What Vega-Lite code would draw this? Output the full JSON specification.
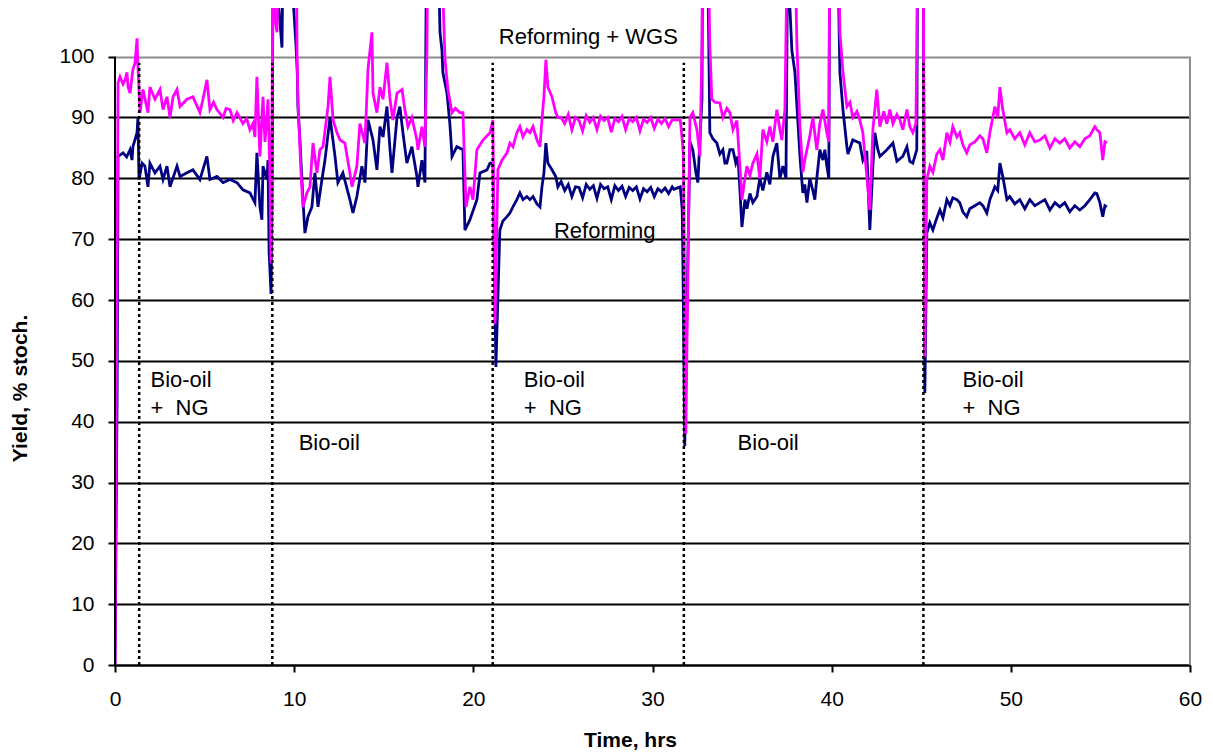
{
 "$schema": "https://vega.github.io/schema/vega-lite/v6.json",
 "width": 1075,
 "height": 657,
 "autosize": {"type": "none"},
 "padding": {"left": 115, "top": 8, "right": 23, "bottom": 87},
 "background": "white",
 "config": {"view": {"stroke": null}, "font": "Liberation Sans"},
 "datasets": {
  "reforming": [
   {"t":0,"y":0},{"t":0.12,"y":45},{"t":0.17,"y":83.6},{"t":0.45,"y":84.2},{"t":0.65,"y":83.5},{"t":0.84,"y":84.7},{"t":0.95,"y":83},{"t":1.0,"y":85.2},{"t":1.23,"y":87.5},{"t":1.28,"y":90},{"t":1.34,"y":79.8},{"t":1.51,"y":82.5},{"t":1.67,"y":82},{"t":1.84,"y":78.6},{"t":1.95,"y":82.5},{"t":2.23,"y":80.9},{"t":2.51,"y":82},{"t":2.68,"y":79.8},{"t":2.9,"y":82},{"t":3.07,"y":78.6},{"t":3.46,"y":82},{"t":3.63,"y":80.3},{"t":4.02,"y":80.9},{"t":4.35,"y":81.4},{"t":4.74,"y":79.8},{"t":5.13,"y":83.6},{"t":5.3,"y":79.8},{"t":5.69,"y":80.3},{"t":6.03,"y":79.3},{"t":6.42,"y":79.8},{"t":6.81,"y":79.3},{"t":7.14,"y":78.1},{"t":7.53,"y":77.6},{"t":7.81,"y":76},{"t":7.92,"y":84.2},{"t":8.09,"y":75.3},{"t":8.2,"y":73.2},{"t":8.26,"y":82},{"t":8.48,"y":79.8},{"t":8.54,"y":83},{"t":8.6,"y":68},{"t":8.71,"y":61},{"t":8.76,"y":75},{"t":8.82,"y":115},{"t":9.04,"y":112},{"t":9.2,"y":106},{"t":9.32,"y":101.5},{"t":9.37,"y":115},{"t":9.5,"y":130},{"t":9.77,"y":120},{"t":9.93,"y":110},{"t":10.1,"y":102},{"t":10.18,"y":97},{"t":10.21,"y":91.8},{"t":10.32,"y":86.3},{"t":10.49,"y":76.5},{"t":10.6,"y":71},{"t":10.77,"y":73.7},{"t":10.99,"y":75.3},{"t":11.16,"y":80.9},{"t":11.33,"y":75.3},{"t":11.55,"y":79.8},{"t":11.72,"y":83},{"t":12.0,"y":90},{"t":12.28,"y":83.6},{"t":12.44,"y":79.3},{"t":12.72,"y":80.9},{"t":13.11,"y":76.5},{"t":13.28,"y":74.3},{"t":13.5,"y":77},{"t":13.78,"y":82},{"t":13.95,"y":79.3},{"t":14.12,"y":89.6},{"t":14.4,"y":86.3},{"t":14.62,"y":81.4},{"t":14.79,"y":88.5},{"t":14.96,"y":86.8},{"t":15.18,"y":91.8},{"t":15.35,"y":84.7},{"t":15.46,"y":80.9},{"t":15.74,"y":90},{"t":15.9,"y":91.8},{"t":16.07,"y":87.5},{"t":16.29,"y":82.5},{"t":16.57,"y":85.2},{"t":16.85,"y":80.3},{"t":16.91,"y":78.6},{"t":17.13,"y":83},{"t":17.3,"y":79.3},{"t":17.35,"y":102.8},{"t":17.41,"y":125},{"t":17.9,"y":130},{"t":18.02,"y":120},{"t":18.14,"y":104},{"t":18.25,"y":101},{"t":18.3,"y":97.4},{"t":18.53,"y":94},{"t":18.69,"y":89},{"t":18.81,"y":83.6},{"t":19.08,"y":85.2},{"t":19.42,"y":84.7},{"t":19.53,"y":71.5},{"t":19.81,"y":73.2},{"t":20.2,"y":76.5},{"t":20.37,"y":80.9},{"t":20.76,"y":81.4},{"t":20.93,"y":82.5},{"t":21.09,"y":82.5},{"t":21.26,"y":49},{"t":21.48,"y":71.5},{"t":21.65,"y":73},{"t":21.88,"y":73.7},{"t":22.04,"y":74.3},{"t":22.21,"y":75.3},{"t":22.43,"y":76.5},{"t":22.6,"y":77.6},{"t":22.77,"y":76.5},{"t":22.99,"y":77},{"t":23.16,"y":76.5},{"t":23.33,"y":77},{"t":23.55,"y":75.8},{"t":23.72,"y":75.3},{"t":23.83,"y":78.6},{"t":23.94,"y":80.9},{"t":24.05,"y":85.8},{"t":24.16,"y":82.5},{"t":24.39,"y":81.4},{"t":24.6,"y":80.3},{"t":24.72,"y":78.6},
   {"t":24.9,"y":79.5},{"t":25.1,"y":78},{"t":25.3,"y":79},{"t":25.5,"y":77},{"t":25.7,"y":78.6},{"t":25.9,"y":78.5},{"t":26.1,"y":76.8},{"t":26.3,"y":79},{"t":26.5,"y":78.2},{"t":26.7,"y":78.8},{"t":26.9,"y":76.7},{"t":27.1,"y":79},{"t":27.3,"y":78.3},{"t":27.5,"y":78.6},{"t":27.7,"y":76.5},{"t":27.9,"y":78.8},{"t":28.1,"y":78},{"t":28.3,"y":78.7},{"t":28.5,"y":77},{"t":28.7,"y":78.5},{"t":28.9,"y":78},{"t":29.1,"y":78.6},{"t":29.3,"y":76.6},{"t":29.5,"y":78.3},{"t":29.7,"y":77.8},{"t":29.9,"y":78.5},{"t":30.1,"y":77},{"t":30.3,"y":78.3},{"t":30.5,"y":77.8},{"t":30.7,"y":78.4},{"t":30.9,"y":77.5},{"t":31.1,"y":78.6},{"t":31.2,"y":78.2},{"t":31.55,"y":78.6},{"t":31.66,"y":74.8},{"t":31.72,"y":60},{"t":31.8,"y":36},{"t":31.9,"y":55},
   {"t":32.09,"y":86},{"t":32.25,"y":84.7},{"t":32.42,"y":81},{"t":32.53,"y":79.3},{"t":32.76,"y":93},{"t":32.81,"y":125},{"t":33.04,"y":125},{"t":33.15,"y":100},{"t":33.2,"y":87.5},{"t":33.37,"y":86.5},{"t":33.59,"y":85.8},{"t":33.76,"y":84},{"t":33.93,"y":84.7},{"t":34.04,"y":82.5},{"t":34.15,"y":82.5},{"t":34.32,"y":84.7},{"t":34.49,"y":84.7},{"t":34.65,"y":82.5},{"t":34.77,"y":83.6},{"t":34.88,"y":78},{"t":34.99,"y":72},{"t":35.16,"y":76.5},{"t":35.27,"y":75},{"t":35.44,"y":77.5},{"t":35.6,"y":76},{"t":35.83,"y":77},{"t":35.99,"y":80},{"t":36.16,"y":78},{"t":36.38,"y":81},{"t":36.55,"y":79},{"t":36.72,"y":83.6},{"t":36.94,"y":85.8},{"t":37.11,"y":80},{"t":37.28,"y":82},{"t":37.45,"y":80},{"t":37.56,"y":125},{"t":37.67,"y":108},{"t":37.78,"y":101},{"t":37.95,"y":97.4},{"t":38.06,"y":92},{"t":38.23,"y":83.6},{"t":38.39,"y":77.6},{"t":38.5,"y":79},{"t":38.62,"y":76},{"t":38.78,"y":80},{"t":38.95,"y":78},{"t":39.06,"y":76.5},{"t":39.17,"y":80},{"t":39.34,"y":84.7},{"t":39.51,"y":83},{"t":39.62,"y":84.7},{"t":39.73,"y":82},{"t":39.84,"y":80},{"t":39.9,"y":125},{"t":40.29,"y":125},{"t":40.46,"y":97.4},{"t":40.63,"y":91.3},{"t":40.85,"y":85.2},{"t":40.91,"y":84},{"t":41.18,"y":86.3},{"t":41.57,"y":85.8},{"t":41.74,"y":83},{"t":41.96,"y":84.5},{"t":42.13,"y":71.5},{"t":42.3,"y":82},{"t":42.41,"y":87.5},{"t":42.58,"y":84.7},{"t":42.69,"y":83.6},{"t":43.08,"y":84.7},{"t":43.42,"y":85.8},{"t":43.64,"y":82.8},{"t":43.97,"y":83.6},{"t":44.2,"y":85.2},{"t":44.36,"y":82.8},{"t":44.53,"y":82.5},{"t":44.64,"y":83.6},{"t":44.75,"y":84.7},{"t":44.81,"y":125},{"t":45.1,"y":125},{"t":45.2,"y":44.7},
   {"t":45.31,"y":71},{"t":45.48,"y":72.7},{"t":45.65,"y":71.5},{"t":45.87,"y":73.5},{"t":46.04,"y":74.8},{"t":46.21,"y":73.5},{"t":46.43,"y":76.5},{"t":46.6,"y":75.5},{"t":46.76,"y":76.8},{"t":46.99,"y":76.5},{"t":47.15,"y":76},{"t":47.32,"y":74.5},{"t":47.54,"y":73.7},{"t":47.71,"y":75},{"t":47.99,"y":75.5},{"t":48.27,"y":76},{"t":48.44,"y":75.5},{"t":48.66,"y":74.3},{"t":48.83,"y":76.5},{"t":49.11,"y":78.6},{"t":49.27,"y":78},{"t":49.39,"y":82.5},{"t":49.55,"y":80.3},{"t":49.78,"y":76.5},{"t":49.94,"y":77},{"t":50.22,"y":75.8},{"t":50.5,"y":76.5},{"t":50.78,"y":75},{"t":51.06,"y":76.5},{"t":51.34,"y":75.5},{"t":51.62,"y":76},{"t":51.9,"y":76.5},{"t":52.18,"y":74.8},{"t":52.46,"y":76},{"t":52.73,"y":75.3},{"t":53.01,"y":76},{"t":53.29,"y":74.5},{"t":53.57,"y":75.5},{"t":53.85,"y":74.8},{"t":54.13,"y":75.5},{"t":54.41,"y":76.5},{"t":54.69,"y":77.6},{"t":54.8,"y":77.5},{"t":54.97,"y":76},{"t":55.13,"y":73.7},{"t":55.25,"y":75.5},{"t":55.36,"y":75.3}
  ],
  "reformingWGS": [
   {"t":0,"y":0},{"t":0.17,"y":95.7},{"t":0.28,"y":96.7},{"t":0.45,"y":95.5},{"t":0.56,"y":96.2},{"t":0.67,"y":97.4},{"t":0.73,"y":95},{"t":0.84,"y":94},{"t":0.95,"y":96.7},{"t":1.0,"y":97.9},{"t":1.12,"y":99},{"t":1.23,"y":103},{"t":1.28,"y":98.4},{"t":1.4,"y":90.8},{"t":1.56,"y":94.6},{"t":1.84,"y":90.8},{"t":1.95,"y":95},{"t":2.23,"y":93},{"t":2.51,"y":94.6},{"t":2.68,"y":91.3},{"t":2.9,"y":93.4},{"t":3.07,"y":90},{"t":3.24,"y":93.4},{"t":3.46,"y":94.6},{"t":3.63,"y":91.8},{"t":4.02,"y":93},{"t":4.35,"y":93.4},{"t":4.74,"y":90.8},{"t":4.91,"y":93},{"t":5.13,"y":96.2},{"t":5.3,"y":91.3},{"t":5.5,"y":92.5},{"t":5.69,"y":91.3},{"t":6.03,"y":90},{"t":6.2,"y":91.5},{"t":6.42,"y":91.3},{"t":6.6,"y":89.5},{"t":6.81,"y":90.8},{"t":7.14,"y":89},{"t":7.35,"y":89.8},{"t":7.53,"y":88},{"t":7.7,"y":89},{"t":7.81,"y":86.8},{"t":7.92,"y":96.7},{"t":8.09,"y":83.6},{"t":8.26,"y":93.4},{"t":8.37,"y":86},{"t":8.48,"y":90},{"t":8.54,"y":93},{"t":8.65,"y":80},{"t":8.71,"y":66},{"t":8.76,"y":90},{"t":8.82,"y":115},{"t":8.93,"y":106},{"t":9.04,"y":104},{"t":9.12,"y":115},{"t":9.3,"y":130},{"t":10.0,"y":130},{"t":10.13,"y":115},{"t":10.16,"y":101},{"t":10.21,"y":93},{"t":10.38,"y":81},{"t":10.49,"y":75.3},{"t":10.71,"y":77.6},{"t":10.88,"y":78.6},{"t":11.05,"y":85.8},{"t":11.27,"y":80.9},{"t":11.44,"y":84.7},{"t":11.61,"y":85.2},{"t":11.89,"y":91.8},{"t":12.0,"y":96.7},{"t":12.17,"y":89.6},{"t":12.39,"y":87.5},{"t":12.56,"y":86.3},{"t":12.83,"y":85.8},{"t":13.11,"y":80.9},{"t":13.23,"y":78.6},{"t":13.5,"y":82},{"t":13.67,"y":89},{"t":13.95,"y":85.8},{"t":14.12,"y":97.9},{"t":14.34,"y":104},{"t":14.4,"y":94},{"t":14.62,"y":90.8},{"t":14.79,"y":95},{"t":14.96,"y":93},{"t":15.18,"y":99},{"t":15.35,"y":93},{"t":15.51,"y":89.6},{"t":15.74,"y":94},{"t":16.02,"y":94.6},{"t":16.18,"y":91.3},{"t":16.35,"y":88.5},{"t":16.57,"y":90},{"t":16.85,"y":86.3},{"t":16.91,"y":84.7},{"t":17.13,"y":88.5},{"t":17.3,"y":85.2},{"t":17.41,"y":101},{"t":17.47,"y":125},{"t":18.1,"y":130},{"t":18.19,"y":120},{"t":18.42,"y":99.5},{"t":18.58,"y":94.6},{"t":18.81,"y":90.8},{"t":19.0,"y":91.5},{"t":19.25,"y":90.8},{"t":19.42,"y":90.8},{"t":19.59,"y":75.3},{"t":19.81,"y":78.6},{"t":19.98,"y":76.5},{"t":20.2,"y":84.7},{"t":20.54,"y":86.3},{"t":20.93,"y":87.5},{"t":21.09,"y":89.6},{"t":21.21,"y":56},{"t":21.37,"y":81.4},{"t":21.6,"y":83},{"t":21.88,"y":84.2},{"t":22.04,"y":85.8},{"t":22.21,"y":85.2},{"t":22.43,"y":87.5},{"t":22.6,"y":88.5},{"t":22.77,"y":86.8},{"t":22.99,"y":88},{"t":23.16,"y":87.5},{"t":23.33,"y":88.5},{"t":23.55,"y":86.3},{"t":23.72,"y":85.2},{"t":23.83,"y":89.6},{"t":23.94,"y":93.4},{"t":24.05,"y":99.5},{"t":24.16,"y":95},{"t":24.39,"y":93.4},{"t":24.6,"y":90.8},{"t":24.72,"y":90},
   {"t":24.9,"y":90},{"t":25.1,"y":89},{"t":25.3,"y":90.5},{"t":25.5,"y":88},{"t":25.7,"y":90},{"t":25.9,"y":89.5},{"t":26.1,"y":87.8},{"t":26.3,"y":90.3},{"t":26.5,"y":89.2},{"t":26.7,"y":90},{"t":26.9,"y":88},{"t":27.1,"y":90.2},{"t":27.3,"y":89.5},{"t":27.5,"y":90},{"t":27.7,"y":87.6},{"t":27.9,"y":89.8},{"t":28.1,"y":89.3},{"t":28.3,"y":90.2},{"t":28.5,"y":88},{"t":28.7,"y":89.8},{"t":28.9,"y":89.3},{"t":29.1,"y":90},{"t":29.3,"y":87.8},{"t":29.5,"y":89.7},{"t":29.7,"y":89.2},{"t":29.9,"y":90},{"t":30.1,"y":88.2},{"t":30.3,"y":89.7},{"t":30.5,"y":89},{"t":30.7,"y":89.8},{"t":30.9,"y":88.5},{"t":31.1,"y":89.6},{"t":31.2,"y":89.6},{"t":31.55,"y":89.6},{"t":31.66,"y":86.3},{"t":31.72,"y":84},{"t":31.86,"y":38},
   {"t":32.09,"y":90},{"t":32.25,"y":90.8},{"t":32.48,"y":88},{"t":32.65,"y":83.6},{"t":32.76,"y":102},{"t":32.81,"y":125},{"t":33.04,"y":130},{"t":33.15,"y":110},{"t":33.2,"y":102},{"t":33.31,"y":93},{"t":33.48,"y":92.5},{"t":33.76,"y":92.4},{"t":33.93,"y":90},{"t":34.15,"y":91.5},{"t":34.32,"y":90.8},{"t":34.49,"y":88},{"t":34.71,"y":89.5},{"t":34.88,"y":82},{"t":34.99,"y":76.5},{"t":35.16,"y":80},{"t":35.27,"y":82},{"t":35.44,"y":80.5},{"t":35.6,"y":82.5},{"t":35.83,"y":84},{"t":35.99,"y":80},{"t":36.16,"y":88},{"t":36.38,"y":86},{"t":36.55,"y":88.5},{"t":36.72,"y":86},{"t":36.94,"y":91.3},{"t":37.11,"y":88},{"t":37.22,"y":86.3},{"t":37.39,"y":91.3},{"t":37.56,"y":125},{"t":37.9,"y":125},{"t":38.06,"y":102},{"t":38.23,"y":88.5},{"t":38.39,"y":81},{"t":38.5,"y":83},{"t":38.62,"y":84.7},{"t":38.78,"y":87},{"t":38.95,"y":90},{"t":39.17,"y":84.7},{"t":39.34,"y":89},{"t":39.51,"y":91.3},{"t":39.73,"y":87.5},{"t":39.84,"y":86},{"t":39.9,"y":125},{"t":40.35,"y":125},{"t":40.46,"y":104},{"t":40.63,"y":97.4},{"t":40.85,"y":91.8},{"t":41.02,"y":92.5},{"t":41.18,"y":90},{"t":41.41,"y":91},{"t":41.57,"y":89.6},{"t":41.74,"y":87.5},{"t":41.91,"y":82},{"t":42.13,"y":74.8},{"t":42.3,"y":88},{"t":42.52,"y":94.6},{"t":42.69,"y":88.5},{"t":42.91,"y":91},{"t":43.08,"y":89},{"t":43.25,"y":91.3},{"t":43.42,"y":89},{"t":43.64,"y":90.5},{"t":43.81,"y":89.6},{"t":43.97,"y":88},{"t":44.2,"y":91.3},{"t":44.36,"y":88.5},{"t":44.53,"y":87.5},{"t":44.7,"y":89},{"t":44.75,"y":101},{"t":44.81,"y":125},{"t":45.1,"y":125},{"t":45.2,"y":50.6},
   {"t":45.31,"y":79.8},{"t":45.48,"y":82},{"t":45.65,"y":81},{"t":45.87,"y":84},{"t":46.04,"y":84.7},{"t":46.21,"y":83},{"t":46.43,"y":87.5},{"t":46.6,"y":86},{"t":46.76,"y":88.5},{"t":46.99,"y":86.8},{"t":47.15,"y":87.5},{"t":47.32,"y":85.5},{"t":47.54,"y":84.2},{"t":47.71,"y":85.5},{"t":47.99,"y":86},{"t":48.27,"y":87},{"t":48.44,"y":86.5},{"t":48.66,"y":84.2},{"t":48.83,"y":87.5},{"t":49.11,"y":91.8},{"t":49.27,"y":90},{"t":49.39,"y":95},{"t":49.55,"y":91.3},{"t":49.78,"y":87.5},{"t":49.94,"y":88},{"t":50.22,"y":86.5},{"t":50.5,"y":87.5},{"t":50.78,"y":85.5},{"t":51.06,"y":87.5},{"t":51.34,"y":86},{"t":51.62,"y":86.3},{"t":51.9,"y":87},{"t":52.18,"y":85},{"t":52.46,"y":86.5},{"t":52.73,"y":85.8},{"t":53.01,"y":86.5},{"t":53.29,"y":85},{"t":53.57,"y":86},{"t":53.85,"y":85.2},{"t":54.13,"y":86.5},{"t":54.41,"y":87},{"t":54.69,"y":88.5},{"t":54.8,"y":88},{"t":54.97,"y":87.5},{"t":55.13,"y":83},{"t":55.25,"y":86},{"t":55.36,"y":85.8}
  ],
  "dividers": [{"t":1.35},{"t":8.78},{"t":21.08},{"t":31.75},{"t":45.12}],
  "labels": [
   {"t":1.98,"y":45.7,"label":"Bio-oil"},{"t":1.98,"y":41.1,"label":"+\u00a0\u00a0NG"},
   {"t":10.25,"y":35.4,"label":"Bio-oil"},
   {"t":22.82,"y":45.7,"label":"Bio-oil"},{"t":22.82,"y":41.1,"label":"+\u00a0\u00a0NG"},
   {"t":34.75,"y":35.4,"label":"Bio-oil"},
   {"t":47.3,"y":45.7,"label":"Bio-oil"},{"t":47.3,"y":41.1,"label":"+\u00a0\u00a0NG"},
   {"t":21.42,"y":102.1,"label":"Reforming + WGS"},
   {"t":24.5,"y":70.2,"label":"Reforming"}
  ]
 },
 "layer": [
  {
   "data": {"name": "reforming"},
   "mark": {"type": "line", "color": "#000080", "strokeWidth": 2.8, "clip": true},
   "encoding": {
    "x": {"field": "t", "type": "quantitative",
     "scale": {"domain": [0, 60], "nice": false, "zero": false},
     "axis": {"values": [0,10,20,30,40,50,60], "grid": false, "domainColor": "black", "domainWidth": 2,
      "tickColor": "black", "tickWidth": 2, "tickSize": 7, "labelFontSize": 21, "labelColor": "black",
      "labelFont": "Liberation Sans", "labelPadding": 16, "labelFlush": false,
      "title": "Time, hrs", "titleFont": "Liberation Sans", "titleFontSize": 21, "titleFontWeight": "bold", "titleColor": "black",
      "titleX": 515, "titleY": 81, "titleBaseline": "alphabetic", "titleAlign": "center"}},
    "y": {"field": "y", "type": "quantitative",
     "scale": {"domain": [0, 108], "nice": false, "zero": false},
     "axis": {"values": [0,10,20,30,40,50,60,70,80,90,100], "grid": true,
      "gridColor": {"condition": {"test": "datum.value === 100", "value": "#8c8c8c"}, "value": "black"},
      "gridWidth": 2, "domain": false, "tickColor": "black", "tickWidth": 2, "tickSize": 7,
      "labelFontSize": 21, "labelColor": "black", "labelFont": "Liberation Sans", "labelPadding": 14, "labelFlush": false,
      "title": "Yield, % stoch.", "titleFont": "Liberation Sans", "titleFontSize": 21, "titleFontWeight": "bold", "titleColor": "black",
      "titleX": -95, "titleY": 380, "titleAngle": -90, "titleBaseline": "middle", "titleAlign": "center"}}
   }
  },
  {
   "data": {"name": "reformingWGS"},
   "mark": {"type": "line", "color": "#FF00FF", "strokeWidth": 2.8, "clip": true},
   "encoding": {
    "x": {"field": "t", "type": "quantitative"},
    "y": {"field": "y", "type": "quantitative"}
   }
  },
  {
   "data": {"name": "dividers"},
   "mark": {"type": "rule", "color": "black", "strokeWidth": 2.5, "strokeDash": [3, 3]},
   "encoding": {
    "x": {"field": "t", "type": "quantitative"},
    "y": {"datum": 0, "type": "quantitative"},
    "y2": {"datum": 99}
   }
  },
  {
   "data": {"values": [{}]},
   "mark": {"type": "rule", "color": "black", "strokeWidth": 2},
   "encoding": {
    "x": {"datum": 0, "type": "quantitative"},
    "y": {"datum": 0, "type": "quantitative"},
    "y2": {"datum": 100}
   }
  },
  {
   "data": {"values": [{}]},
   "mark": {"type": "rule", "color": "#8c8c8c", "strokeWidth": 2},
   "encoding": {
    "x": {"datum": 60, "type": "quantitative"},
    "y": {"datum": 0, "type": "quantitative"},
    "y2": {"datum": 100}
   }
  },
  {
   "data": {"name": "labels"},
   "mark": {"type": "text", "align": "left", "baseline": "alphabetic", "font": "Liberation Sans", "fontSize": 22, "color": "black"},
   "encoding": {
    "x": {"field": "t", "type": "quantitative"},
    "y": {"field": "y", "type": "quantitative"},
    "text": {"field": "label"}
   }
  }
 ]
}
